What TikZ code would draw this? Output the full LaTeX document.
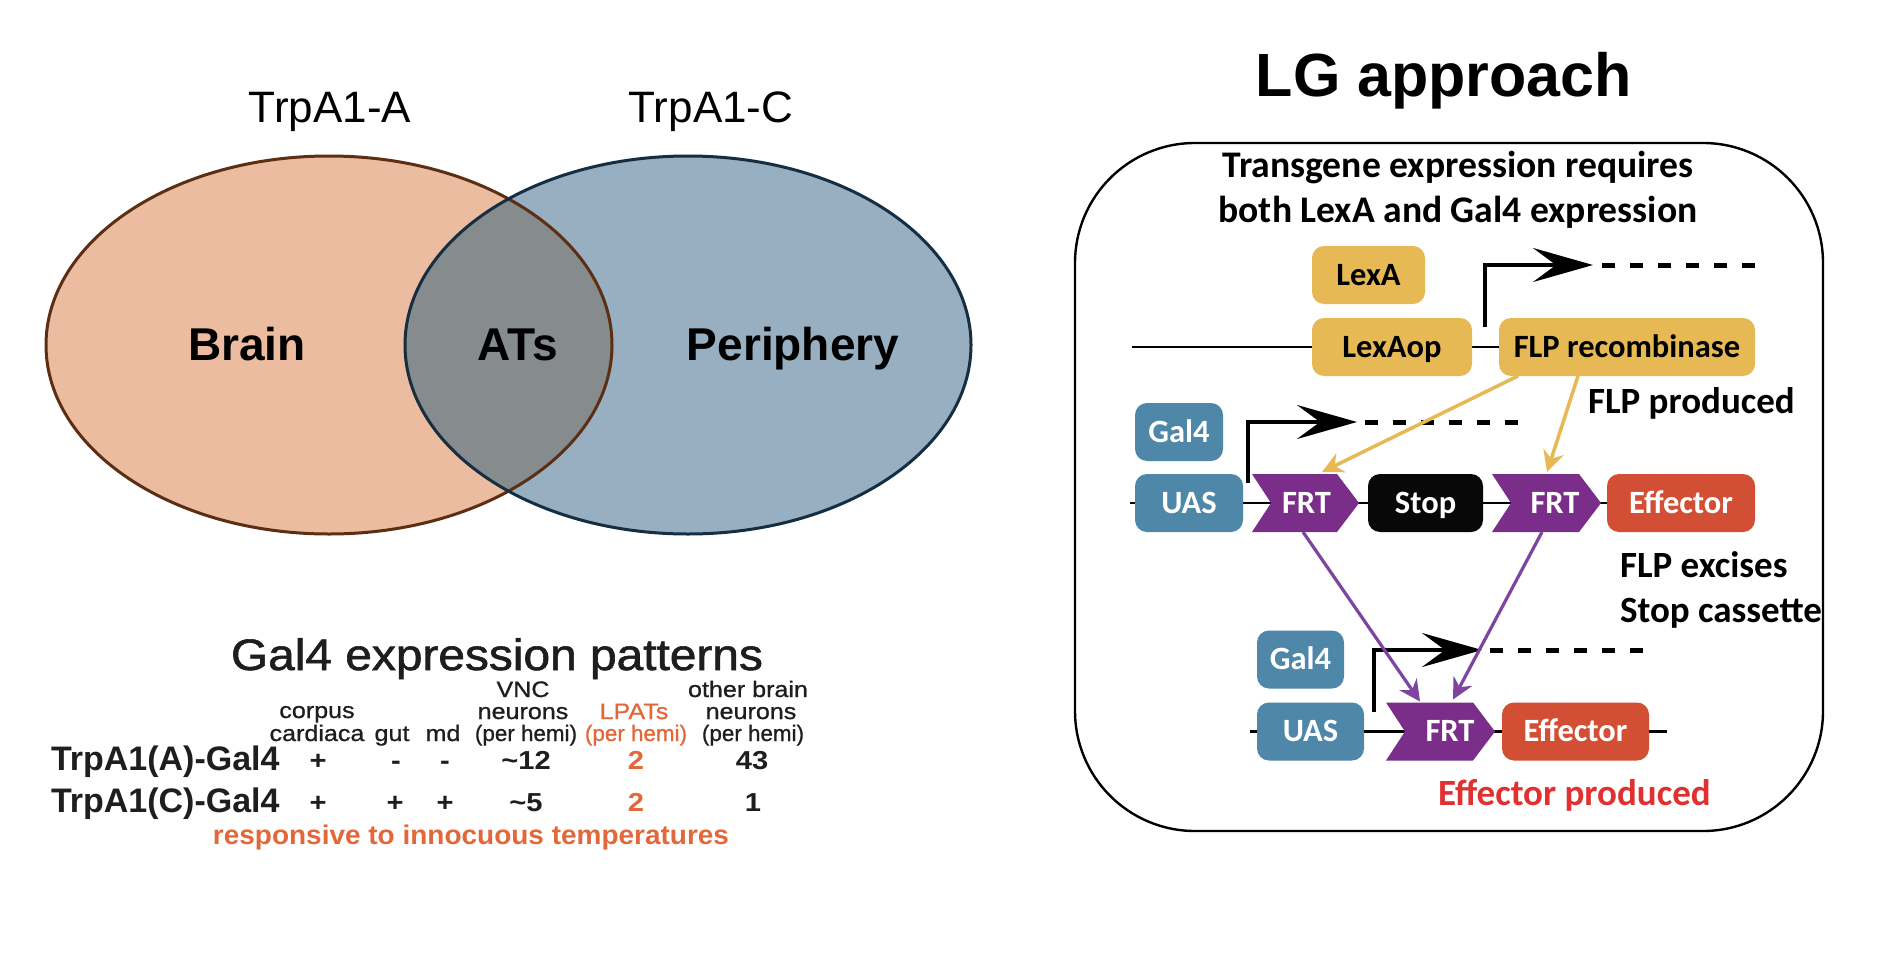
\documentclass[tikz,border=0pt]{standalone}
\usepackage{fontspec}
\usepackage{graphicx}
\setmainfont{Liberation Sans}
\newfontfamily\carl{Carlito}
\newfontfamily\medsans[FakeBold=1.3]{Liberation Sans}
\newfontfamily\semisans[FakeBold=0.8]{Liberation Sans}
\usetikzlibrary{arrows.meta,calc}
\definecolor{vorange}{RGB}{236,188,160}
\definecolor{vblue}{RGB}{151,175,192}
\definecolor{vgray}{RGB}{134,139,141}
\definecolor{ostroke}{RGB}{92,46,20}
\definecolor{bstroke}{RGB}{22,46,66}
\definecolor{tdark}{RGB}{30,30,30}
\definecolor{torange}{RGB}{226,104,58}
\definecolor{gold}{RGB}{230,185,85}
\definecolor{gblue}{RGB}{78,135,168}
\definecolor{purp}{RGB}{122,46,138}
\definecolor{parrow}{RGB}{125,68,160}
\definecolor{effred}{RGB}{210,79,53}
\definecolor{stopblk}{RGB}{8,8,8}
\definecolor{prodred}{RGB}{224,48,48}
\pgfdeclarelayer{bg}
\pgfdeclarelayer{mid}
\pgfsetlayers{bg,mid,main}
\newcommand\hx[1]{\scalebox{1.12}[1]{#1}}
\newcommand\chev[1]{\fill[purp] (#1.north west) -- ($(#1.north east)+(-22,0)$) -- (#1.east) -- ($(#1.south east)+(-22,0)$) -- (#1.south west) -- ($(#1.west)+(19,0)$) -- cycle;}
\begin{document}
\begin{tikzpicture}[x=0.5pt,y=-0.5pt,
  txt/.style={inner sep=0pt, outer sep=0pt},
  vlab/.style={txt, anchor=base, font=\fontsize{22pt}{26pt}\selectfont},
  vbold/.style={txt, anchor=base, font=\fontsize{23pt}{27pt}\selectfont\bfseries},
  thead/.style={txt, anchor=base, text=tdark, font=\semisans\fontsize{11.2pt}{13pt}\selectfont},
  tval/.style={txt, anchor=base, text=tdark, font=\fontsize{13pt}{15pt}\selectfont\bfseries},
  trow/.style={txt, anchor=base west, text=tdark, font=\fontsize{17pt}{20pt}\selectfont\bfseries},
  gene/.style={txt, rounded corners=6pt, minimum height=29pt, text height=10.4pt, text depth=0pt, font=\carl\fontsize{16.25pt}{19pt}\selectfont\bfseries},
  gbox/.style={gene, fill=gold, text=black},
  bbox/.style={gene, fill=gblue, text=white},
  kbox/.style={gene, fill=stopblk, text=white},
  rbox/.style={gene, fill=effred, text=white},
  fbox/.style={gene, text=white},
  anno/.style={txt, anchor=base west, font=\carl\fontsize{18.5pt}{22pt}\selectfont\bfseries},
  dna/.style={line width=1.25pt},
  prom/.style={line width=2.25pt, -{Stealth[length=30pt,width=17pt,inset=11.5pt]}},
  dashl/.style={line width=2.5pt, dash pattern=on 6.5pt off 7.5pt},
  yarr/.style={draw=gold, line width=1.75pt, -{Stealth[length=10.5pt,width=10.5pt,inset=3.5pt]}},
  parr/.style={draw=parrow, line width=1.6pt, -{Stealth[length=10.5pt,width=10.5pt,inset=3.5pt]}}
]
\begin{pgfonlayer}{bg}
\path[use as bounding box, fill=white] (0,0) rectangle (1878,974);
\end{pgfonlayer}

% ---------------- Venn diagram ----------------
\fill[vorange] (329,345) ellipse [x radius=141.5pt, y radius=94.5pt];
\fill[vblue] (688,345) ellipse [x radius=141.5pt, y radius=94.5pt];
\begin{scope}
  \clip (329,345) ellipse [x radius=141.5pt, y radius=94.5pt];
  \fill[vgray] (688,345) ellipse [x radius=141.5pt, y radius=94.5pt];
\end{scope}
\draw[ostroke, line width=1.5pt] (329,345) ellipse [x radius=141.5pt, y radius=94.5pt];
\draw[bstroke, line width=1.5pt] (688,345) ellipse [x radius=141.5pt, y radius=94.5pt];

\node[vlab] (trpa) at (330,122) {TrpA1-A};
\node[vlab] (trpc) at (711,122) {TrpA1-C};
\node[vbold] (brain) at (247,360) {Brain};
\node[vbold] (ats) at (518,360) {ATs};
\node[vbold] (peri) at (793,360) {Periphery};

% ---------------- Table ----------------
\node[txt, anchor=base, text=tdark] (ttl) at (497,670)
  {\resizebox{266pt}{\height}{\medsans\fontsize{22pt}{26pt}\selectfont Gal4 expression patterns}};
\node[thead] (hcorpus) at (317,718) {\hx{corpus}};
\node[thead] (hcard) at (317,741) {\hx{cardiaca}};
\node[thead] (hgut) at (392,741) {\hx{gut}};
\node[thead] (hmd) at (443,741) {\hx{md}};
\node[thead] (hvnca) at (523,697) {\hx{VNC}};
\node[thead] (hvncb) at (523,719) {\hx{neurons}};
\node[thead] (hvncc) at (526,741) {(per hemi)};
\node[thead, text=torange] (hlpa) at (634,719) {\hx{LPATs}};
\node[thead, text=torange] (hlpb) at (636,741) {(per hemi)};
\node[thead] (hoba) at (748,697) {\hx{other brain}};
\node[thead] (hobb) at (751,719) {\hx{neurons}};
\node[thead] (hobc) at (753,741) {(per hemi)};

\node[trow] (rowa) at (51,770) {TrpA1(A)-Gal4};
\node[trow] (rowc) at (51,812) {TrpA1(C)-Gal4};

\node[tval] (va1) at (318,769) {\hx{+}};
\node[tval] (va2) at (396,769) {\hx{-}};
\node[tval] (va3) at (445,769) {\hx{-}};
\node[tval] (va4) at (526,769) {\hx{\char"7E 12}};
\node[tval, text=torange] (va5) at (636,769) {\hx{2}};
\node[tval] (va6) at (752,769) {\hx{43}};
\node[tval] (vc1) at (318,811) {\hx{+}};
\node[tval] (vc2) at (395,811) {\hx{+}};
\node[tval] (vc3) at (445,811) {\hx{+}};
\node[tval] (vc4) at (526,811) {\hx{\char"7E 5}};
\node[tval, text=torange] (vc5) at (636,811) {\hx{2}};
\node[tval] (vc6) at (753,811) {\hx{1}};

\node[txt, anchor=base, text=torange] (resp) at (471,844)
  {\resizebox{258pt}{\height}{\fontsize{13.5pt}{15pt}\selectfont\bfseries responsive to innocuous temperatures}};

% ---------------- LG approach ----------------
\node[txt, anchor=base, font=\fontsize{30.5pt}{36pt}\selectfont\bfseries] (lg) at (1444,97) {LG approach};
\node[draw, line width=1.2pt, rounded corners=60pt, minimum width=374pt, minimum height=344pt, inner sep=0pt] (frame) at (1449,487) {};
\node[txt, anchor=base, font=\carl\fontsize{18.8pt}{22pt}\selectfont\bfseries] (tga) at (1458,177) {Transgene expression requires};
\node[txt, anchor=base, font=\carl\fontsize{18.8pt}{22pt}\selectfont\bfseries] (tgb) at (1458,222) {both LexA and Gal4 expression};

% row 1
\node[gbox, minimum width=56.5pt] (lexa) at (1368.5,275) {LexA};
\node[gbox, minimum width=80pt] (lexaop) at (1392,347) {LexAop};
\node[gbox, minimum width=128pt] (flp) at (1627,347) {FLP recombinase};
\coordinate (la) at (1132,347);
\coordinate (pra) at (1485,327);
\coordinate (pta) at (1593,265);
\coordinate (pda) at (1602,265);
\coordinate (pea) at (1755,265);

% row 2
\node[bbox, minimum width=44pt] (galb) at (1179,432) {Gal4};
\node[bbox, minimum width=54pt] (uasb) at (1189,503) {UAS};
\node[fbox, minimum width=53.5pt] (frtb) at (1305.5,503) {\hspace*{1pt}FRT};
\node[kbox, minimum width=57.5pt] (stop) at (1425.5,503) {Stop};
\node[fbox, minimum width=54.5pt] (frtc) at (1546.5,503) {\hspace*{8.5pt}FRT};
\node[rbox, minimum width=74pt] (effb) at (1681,503) {Effector};
\coordinate (lb) at (1130,503);
\coordinate (prb) at (1248,483);
\coordinate (ptb) at (1357,422);
\coordinate (pdb) at (1365,422);
\coordinate (peb) at (1520,422);

% row 3
\node[bbox, minimum width=43.5pt] (galc) at (1300.5,659.5) {Gal4};
\node[bbox, minimum width=53.5pt] (uasc) at (1310.5,731.5) {UAS};
\node[fbox, minimum width=54.5pt] (frtd) at (1440.5,731.5) {\hspace*{9.5pt}FRT};
\node[rbox, minimum width=73.5pt] (effc) at (1575.5,731.5) {Effector};
\coordinate (lc) at (1250,731.5);
\coordinate (lce) at (1667,731.5);
\coordinate (prc) at (1374,712);
\coordinate (ptc) at (1482,650);
\coordinate (pdc) at (1490,650);
\coordinate (pec) at (1645,650);

\begin{pgfonlayer}{bg}
  \draw[dna] (la) -- (flp.west);
  \draw[dna] (lb) -- (effb.west);
  \draw[dna] (lc) -- (lce);
\end{pgfonlayer}
\begin{pgfonlayer}{mid}
  \chev{frtb}
  \chev{frtc}
  \chev{frtd}
\end{pgfonlayer}

% promoters
\draw[prom] (pra) |- (pta);
\draw[dashl] (pda) -- (pea);
\draw[prom] (prb) |- (ptb);
\draw[dashl] (pdb) -- (peb);
\draw[prom] (prc) |- (ptc);
\draw[dashl] (pdc) -- (pec);

% FLP arrows
\draw[yarr] ([xshift=9.5pt]flp.south west) -- ([xshift=35pt,yshift=1pt]frtb.north west);
\draw[yarr] ([xshift=39.5pt]flp.south west) -- ([xshift=27.5pt,yshift=1pt]frtc.north west);
% excision arrows
\draw[parr] ([xshift=25.5pt]frtb.south west) -- ([xshift=17pt,yshift=0.5pt]frtd.north west);
\draw[parr] ([xshift=25pt]frtc.south west) -- ([xshift=33.5pt,yshift=1.5pt]frtd.north west);

% annotations
\node[anno] (flpprod) at (1588,413) {FLP produced};
\node[anno] (flpexc) at (1620,577) {FLP excises};
\node[anno] (stopcas) at (1620,622) {Stop cassette};
\node[anno, text=prodred] (effprod) at (1438,805) {Effector produced};
\end{tikzpicture}
\end{document}
